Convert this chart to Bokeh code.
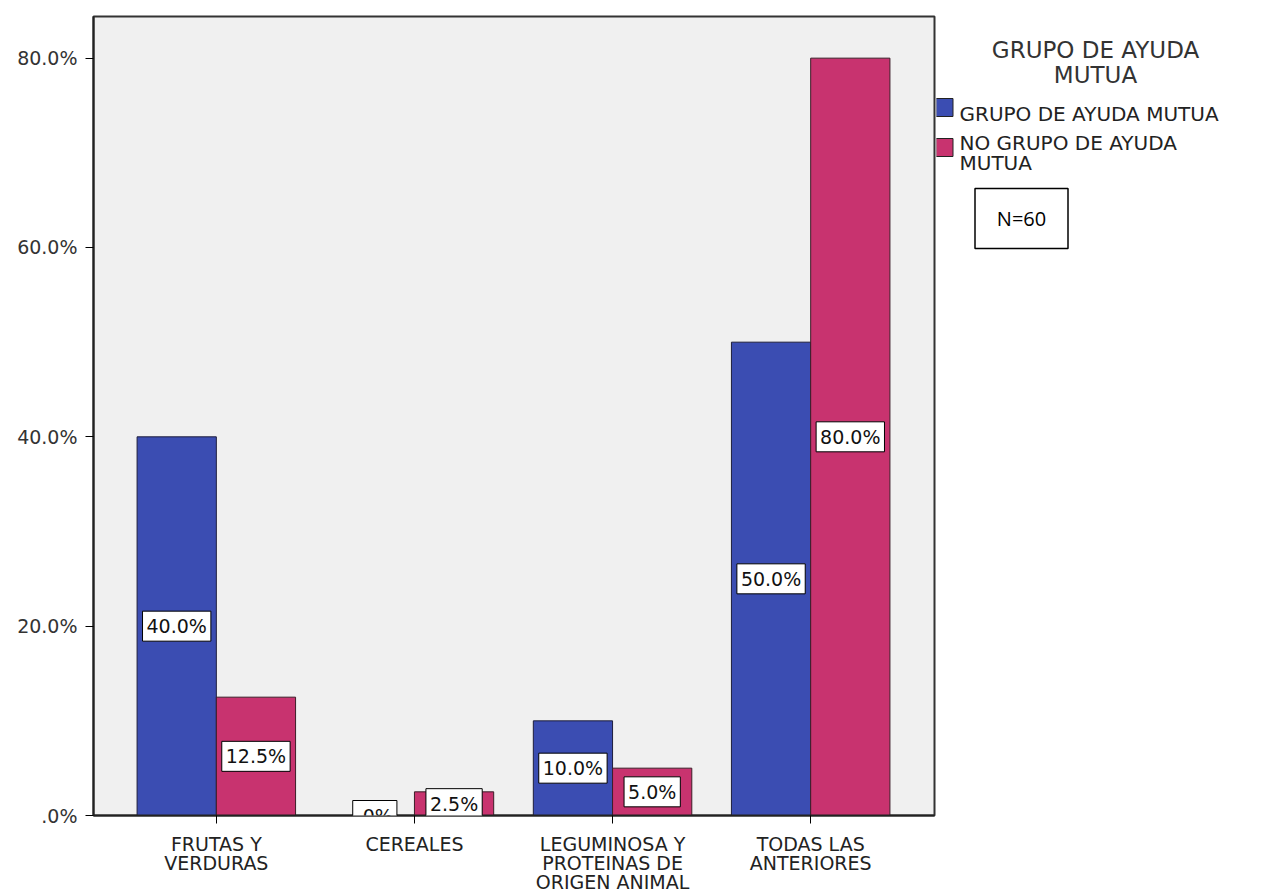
from bokeh.plotting import figure
from bokeh.layouts import row
from bokeh.models import ColumnDataSource, Range1d, FixedTicker, Label
from bokeh.core.properties import value
from bokeh.embed import file_html
from bokeh.resources import INLINE

# Categories and percentages per group
categories = ["FRUTAS Y\nVERDURAS", "CEREALES",
              "LEGUMINOSA Y\nPROTEINAS DE\nORIGEN ANIMAL", "TODAS LAS\nANTERIORES"]
grupo_ayuda = [40.0, 0.0, 10.0, 50.0]
no_grupo_ayuda = [12.5, 2.5, 5.0, 80.0]
grupo_labels = ["40.0%", ".0%", "10.0%", "50.0%"]
no_grupo_labels = ["12.5%", "2.5%", "5.0%", "80.0%"]
y_ticks = [0, 20, 40, 60, 80]
y_tick_labels = [".0%", "20.0%", "40.0%", "60.0%", "80.0%"]
series_names = ["GRUPO DE AYUDA MUTUA", "NO GRUPO DE AYUDA", "MUTUA"]
legend_title = ["GRUPO DE AYUDA", "MUTUA"]
sample_note = "N=60"

BLUE = "#3b4db2"
PINK = "#c8336f"
FONT = "DejaVu Sans"
BAR_W = 0.4
TOP, BOTTOM = 16, 81          # frame margins (px)
W, H = 1275, 896
MAIN_W = 936

centers = [i + 0.5 for i in range(len(categories))]
x_a = [c - BAR_W / 2 for c in centers]
x_b = [c + BAR_W / 2 for c in centers]

src_a = ColumnDataSource(dict(x=x_a, top=grupo_ayuda))
src_b = ColumnDataSource(dict(x=x_b, top=no_grupo_ayuda))

p = figure(width=MAIN_W, height=H, output_backend="svg", toolbar_location=None,
           x_range=Range1d(-0.12, 4.125), y_range=Range1d(0, 84.4),
           min_border_left=93, min_border_right=2,
           min_border_top=TOP, min_border_bottom=BOTTOM)

p.background_fill_color = "#f0f0f0"
p.border_fill_color = "white"
p.outline_line_color = "#333333"
p.outline_line_width = 2
p.grid.visible = False

p.vbar(x="x", top="top", width=BAR_W, source=src_a, fill_color=BLUE,
       line_color="#1e1e3c", line_width=1)
p.vbar(x="x", top="top", width=BAR_W, source=src_b, fill_color=PINK,
       line_color="#3c1e28", line_width=1)

# Value labels in white boxes at bar mid-height
for xs, vals, labs in ((x_a, grupo_ayuda, grupo_labels),
                       (x_b, no_grupo_ayuda, no_grupo_labels)):
    for xv, v, lab in zip(xs, vals, labs):
        p.add_layout(Label(x=xv, y=v / 2, text=lab, text_align="center",
                           text_baseline="middle", text_font=FONT,
                           text_font_size="19px", text_color="#111111",
                           background_fill_color="white",
                           border_line_color="black", border_line_width=1,
                           padding=4))

# Axes
p.yaxis.ticker = FixedTicker(ticks=y_ticks)
p.yaxis.major_label_overrides = {t: l for t, l in zip(y_ticks, y_tick_labels)}
p.yaxis.minor_tick_line_color = None
p.yaxis.major_tick_in = 0
p.yaxis.major_tick_out = 8
p.yaxis.axis_line_color = "#222222"
p.yaxis.axis_line_width = 2
p.yaxis.major_label_text_font = FONT
p.yaxis.major_label_text_font_size = "19px"
p.yaxis.major_label_text_color = "#333333"
p.yaxis.major_label_standoff = 8

p.xaxis.ticker = FixedTicker(ticks=centers)
p.xaxis.major_label_overrides = {c: l for c, l in zip(centers, categories)}
p.xaxis.minor_tick_line_color = None
p.xaxis.major_tick_in = 0
p.xaxis.major_tick_out = 8
p.xaxis.axis_line_color = "#222222"
p.xaxis.axis_line_width = 2
p.xaxis.major_label_text_font = FONT
p.xaxis.major_label_text_font_size = "19px"
p.xaxis.major_label_text_color = "#222222"
p.xaxis.major_label_text_line_height = 0.88
p.xaxis.major_label_standoff = 9

# Legend panel: its frame shares the main frame's rows, so the y range
# maps straight onto page pixels
lg = figure(width=W - MAIN_W, height=H, output_backend="svg",
            toolbar_location=None,
            x_range=Range1d(MAIN_W, W), y_range=Range1d(H - BOTTOM, TOP),
            min_border=0, min_border_top=TOP, min_border_bottom=BOTTOM)
lg.axis.visible = False
lg.grid.visible = False
lg.outline_line_color = None
lg.background_fill_color = "white"
lg.border_fill_color = "white"

lg.text(x=[1095, 1095], y=[49, 74], text=legend_title, text_align="center",
        text_baseline="middle", text_font=value(FONT), text_font_size="23px",
        text_color="#333333")
lg.rect(x=[944, 944], y=[107, 147], width=17, height=18,
        fill_color=[BLUE, PINK], line_color="#222222", line_width=1)
lg.text(x=[959, 959, 959], y=[113, 142, 162], text=series_names,
        text_align="left", text_baseline="middle", text_font=value(FONT),
        text_font_size="20px", text_color="#222222")

# Sample size box
lg.rect(x=[1021], y=[218], width=93, height=60, fill_color="white",
        line_color="black", line_width=1.5)
lg.text(x=[1021], y=[218], text=[sample_note], text_align="center",
        text_baseline="middle", text_font=value("Open Sans"),
        text_font_size="20px", text_color="black")

layout = row(p, lg, spacing=0)
open("out.html", "w").write(file_html(layout, INLINE))
